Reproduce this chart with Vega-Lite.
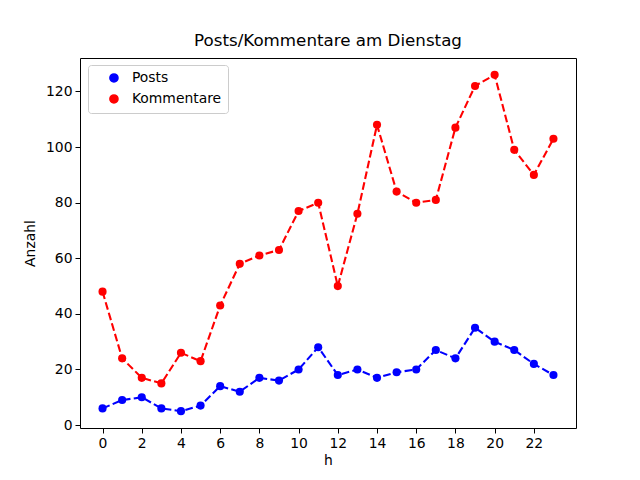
{
  "$schema": "https://vega.github.io/schema/vega-lite/v6.json",
  "autosize": "none",
  "padding": {"left": 80, "top": 58, "right": 64, "bottom": 53},
  "width": 496,
  "height": 370,
  "background": "white",
  "title": {
    "text": "Posts/Kommentare am Dienstag",
    "fontSize": 16.7,
    "fontWeight": "normal",
    "font": "DejaVu Sans",
    "color": "black",
    "offset": 8
  },
  "config": {
    "font": "DejaVu Sans",
    "view": {"stroke": "black", "strokeWidth": 1},
    "axis": {
      "domain": false,
      "grid": false,
      "tickColor": "black",
      "tickSize": 5,
      "tickWidth": 1,
      "labelColor": "black",
      "labelFontSize": 13.9,
      "labelPadding": 3,
      "titleColor": "black",
      "titleFontSize": 13.9,
      "titleFontWeight": "normal"
    },
    "legend": {
      "orient": "none",
      "legendX": 8,
      "legendY": 7,
      "title": null,
      "fillColor": "white",
      "strokeColor": "#cccccc",
      "cornerRadius": 3,
      "padding": 6,
      "symbolType": "circle",
      "symbolSize": 66,
      "symbolOffset": 13,
      "labelOffset": 11,
      "labelFontSize": 13.9,
      "labelColor": "black",
      "rowPadding": 5
    }
  },
  "data": {
    "values": [
      {"h": 0, "series": "Posts", "n": 6}, {"h": 1, "series": "Posts", "n": 9},
      {"h": 2, "series": "Posts", "n": 10}, {"h": 3, "series": "Posts", "n": 6},
      {"h": 4, "series": "Posts", "n": 5}, {"h": 5, "series": "Posts", "n": 7},
      {"h": 6, "series": "Posts", "n": 14}, {"h": 7, "series": "Posts", "n": 12},
      {"h": 8, "series": "Posts", "n": 17}, {"h": 9, "series": "Posts", "n": 16},
      {"h": 10, "series": "Posts", "n": 20}, {"h": 11, "series": "Posts", "n": 28},
      {"h": 12, "series": "Posts", "n": 18}, {"h": 13, "series": "Posts", "n": 20},
      {"h": 14, "series": "Posts", "n": 17}, {"h": 15, "series": "Posts", "n": 19},
      {"h": 16, "series": "Posts", "n": 20}, {"h": 17, "series": "Posts", "n": 27},
      {"h": 18, "series": "Posts", "n": 24}, {"h": 19, "series": "Posts", "n": 35},
      {"h": 20, "series": "Posts", "n": 30}, {"h": 21, "series": "Posts", "n": 27},
      {"h": 22, "series": "Posts", "n": 22}, {"h": 23, "series": "Posts", "n": 18},
      {"h": 0, "series": "Kommentare", "n": 48}, {"h": 1, "series": "Kommentare", "n": 24},
      {"h": 2, "series": "Kommentare", "n": 17}, {"h": 3, "series": "Kommentare", "n": 15},
      {"h": 4, "series": "Kommentare", "n": 26}, {"h": 5, "series": "Kommentare", "n": 23},
      {"h": 6, "series": "Kommentare", "n": 43}, {"h": 7, "series": "Kommentare", "n": 58},
      {"h": 8, "series": "Kommentare", "n": 61}, {"h": 9, "series": "Kommentare", "n": 63},
      {"h": 10, "series": "Kommentare", "n": 77}, {"h": 11, "series": "Kommentare", "n": 80},
      {"h": 12, "series": "Kommentare", "n": 50}, {"h": 13, "series": "Kommentare", "n": 76},
      {"h": 14, "series": "Kommentare", "n": 108}, {"h": 15, "series": "Kommentare", "n": 84},
      {"h": 16, "series": "Kommentare", "n": 80}, {"h": 17, "series": "Kommentare", "n": 81},
      {"h": 18, "series": "Kommentare", "n": 107}, {"h": 19, "series": "Kommentare", "n": 122},
      {"h": 20, "series": "Kommentare", "n": 126}, {"h": 21, "series": "Kommentare", "n": 99},
      {"h": 22, "series": "Kommentare", "n": 90}, {"h": 23, "series": "Kommentare", "n": 103}
    ]
  },
  "encoding": {
    "x": {
      "field": "h",
      "type": "quantitative",
      "title": "h",
      "scale": {"domain": [-1.15, 24.15], "nice": false, "zero": false},
      "axis": {"values": [0, 2, 4, 6, 8, 10, 12, 14, 16, 18, 20, 22], "titlePadding": 4}
    },
    "y": {
      "field": "n",
      "type": "quantitative",
      "title": "Anzahl",
      "scale": {"domain": [-1.05, 132.05], "nice": false, "zero": false},
      "axis": {"values": [0, 20, 40, 60, 80, 100, 120], "titlePadding": 8}
    },
    "color": {
      "field": "series",
      "type": "nominal",
      "sort": ["Posts", "Kommentare"],
      "scale": {"domain": ["Posts", "Kommentare"], "range": ["#0000ff", "#ff0000"]}
    }
  },
  "layer": [
    {
      "mark": {"type": "line", "strokeWidth": 2.1, "strokeDash": [7.7, 3.3]},
      "encoding": {"detail": {"field": "series"}}
    },
    {
      "mark": {"type": "point", "filled": true, "opacity": 1, "size": 66, "shape": "circle"}
    }
  ]
}
